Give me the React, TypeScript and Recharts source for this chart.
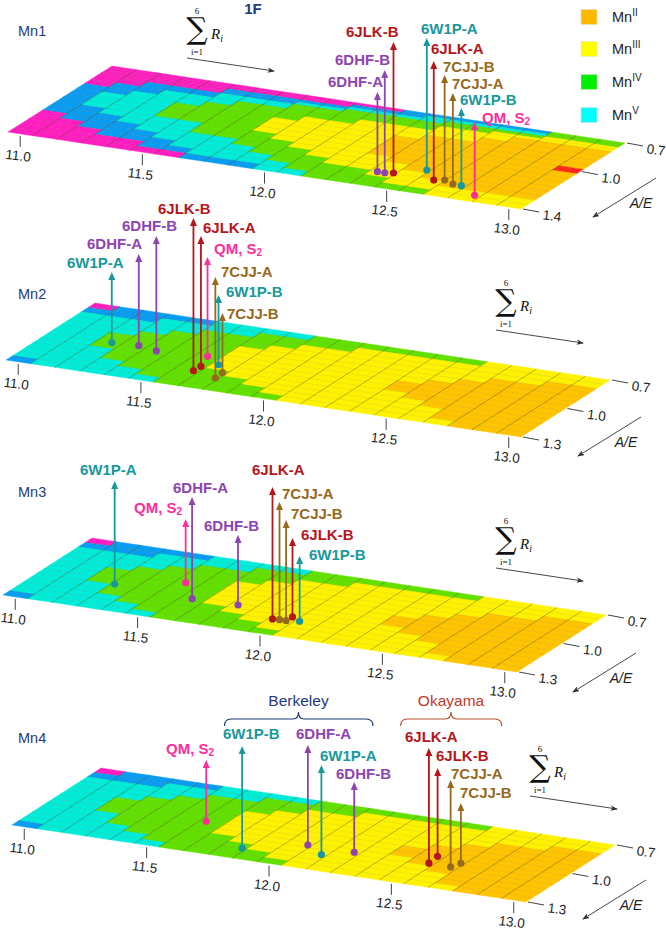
import React from "react"
import { ReferenceArea, ReferenceLine, Scatter, ScatterChart, XAxis, YAxis } from "recharts"

// state of every cell, one string per energy column, back row first
// P/B are the out of range states, C=MnV G=MnIV Y=MnIII O=MnII R=over range
const mn1Columns = [
  "PPPPPPBBBBBBPPPPP",
  "PPPPPBBCCCBBBPPPP",
  "PPPPBBCCCCCBBBPPP",
  "PPPPBCCCCCCCBBBPP",
  "PPPPBCCGGGCCCBBPP",
  "PPBBCCGGGGCCCCBBP",
  "PPBBCGGGGGGGCCCBP",
  "PPBBCGGGGGGGCCCCB",
  "PPBCGGGYYYGGGCCCB",
  "PPBCGGYYYYYGGGCCB",
  "PBCGGGYYYYYYGGGCC",
  "PBCGGYYYYYYYYGGGC",
  "BBCGGYYYYYYYYYGGG",
  "BCCGGYYOOOOYYYGGG",
  "BCGGYYOOOOOOYYYGG",
  "BCGGYYOOOOOOOYYYG",
  "BCGYYOOOOOOOOOYYG",
  "BCGYOOOOOOOOOOOYY",
  "GGYYOOOOOOOOOOOYY",
  "GGYYOOOOOOOOOOOYY",
  "GGYYOOOOROOOOOOYY",
]

const mn234Columns = [
  "PBCCCCCCCCCCB",
  "BBCCCCCCCCCCC",
  "BBCCCGGGCCCCC",
  "BCCCGGGGGGCCC",
  "BCCGGGGGGGGCC",
  "CCGGGGGGGGGGC",
  "CCGGGGGGGGGGG",
  "CGGGYYYYYGGGG",
  "CGGYYYYYYYGGG",
  "GGYYYYYYYYYGG",
  "GGYYYYYYYYYYG",
  "GYYYYYYYYYYYY",
  "GYYYYYYYYYYYY",
  "GYYYYYYYYYYYY",
  "GYYYYYOOYYYYY",
  "GYYYYOOOOYYYY",
  "YYYYOOOOOOYYY",
  "YYYOOOOOOOOOY",
  "YYYOOOOOOOOOO",
  "YYOOOOOOOOOOO",
  "YYOOOOOOOOOOO",
]

const energyEdges = [10.95, 11.05, 11.15, 11.25, 11.35, 11.45, 11.55, 11.65, 11.75, 11.85, 11.95, 12.05, 12.15, 12.25, 12.35, 12.45, 12.55, 12.65, 12.75, 12.85, 12.95, 13.05]
const mn1RatioEdges = [0.675, 0.7, 0.725, 0.75, 0.775, 0.825, 0.875, 0.925, 0.975, 1.025, 1.075, 1.125, 1.175, 1.225, 1.275, 1.325, 1.375, 1.425]
const mn234RatioEdges = [0.675, 0.725, 0.775, 0.825, 0.875, 0.925, 0.975, 1.025, 1.075, 1.125, 1.175, 1.225, 1.275, 1.325]

const energyTicks = [11, 11.5, 12, 12.5, 13]
const mn1RatioTicks = [0.675, 1, 1.425]
const mn234RatioTicks = [0.675, 1, 1.325]

const mn1Names = ["6DHF-A", "6DHF-B", "6JLK-B", "6W1P-A", "6JLK-A", "7CJJ-B", "7CJJ-A", "6W1P-B", "QM, S"]
const mn1Energy = [12.38, 12.41, 12.44, 12.535, 12.61, 12.646, 12.694, 12.731, 12.825]
const mn1Ratio = [1.28, 1.28, 1.27, 1.197, 1.279, 1.264, 1.289, 1.293, 1.363]

const mn2Names = ["6W1P-A", "6DHF-A", "6DHF-B", "6JLK-B", "6JLK-A", "QM, S", "7CJJ-A", "6W1P-B", "7CJJ-B"]
const mn2Energy = [11.21, 11.315, 11.4, 11.625, 11.627, 11.597, 11.735, 11.677, 11.731]
const mn2Ratio = [1.018, 1.009, 1.033, 1.165, 1.114, 1.012, 1.202, 1.075, 1.143]

const mn3Names = ["6W1P-A", "QM, S", "6DHF-A", "6DHF-B", "6JLK-A", "7CJJ-A", "7CJJ-B", "6JLK-B", "6W1P-B"]
const mn3Energy = [11.263, 11.491, 11.595, 11.78, 11.966, 11.993, 12.02, 12.022, 12.068]
const mn3Ratio = [1.069, 0.958, 1.097, 1.092, 1.173, 1.17, 1.17, 1.127, 1.157]

const mn4Names = ["QM, S", "6W1P-B", "6DHF-A", "6W1P-A", "6DHF-B", "6JLK-A", "6JLK-B", "7CJJ-A", "7CJJ-B"]
const mn4Energy = [11.574, 11.832, 12.033, 12.128, 12.224, 12.528, 12.521, 12.619, 12.634]
const mn4Ratio = [1.022, 1.221, 1.1, 1.171, 1.103, 1.101, 1.025, 1.105, 1.057]

const legendNames = ["II", "III", "IV", "V"]

// layout, in page pixels: arrow tip y, label left x, label middle y
const mn1Layout = [[92, 328, 81], [70, 335, 59], [42, 346, 31], [38, 421, 28], [61, 431, 48], [75, 443, 66], [93, 452, 83], [108, 460, 99], [122, 482, 117]]
const mn2Layout = [[272, 67, 262], [254, 87, 243], [236, 122, 225], [218, 158, 208], [236, 203, 227], [257, 214, 248], [277, 221, 271], [295, 226, 291], [313, 227, 313]]
const mn3Layout = [[481, 80, 469], [519, 134, 507], [497, 173, 487], [535, 204, 525], [487, 252, 469], [502, 282, 493], [520, 291, 513], [538, 301, 534], [556, 309, 554]]
const mn4Layout = [[760, 166, 748], [746, 223, 733], [745, 296, 733], [765, 320, 755], [782, 336, 773], [748, 405, 736], [768, 436, 755], [780, 451, 773], [803, 460, 792]]

const panels = [
  { title: "Mn1", titleY: 31, columns: mn1Columns, edges: mn1RatioEdges, ratioTicks: mn1RatioTicks, names: mn1Names, energy: mn1Energy, ratio: mn1Ratio, layout: mn1Layout, bx: 112, by: 66, width: 513, depth: 66, shear: 104 / 66, sum: [187, 58], ae: [656, 178] },
  { title: "Mn2", titleY: 294, columns: mn234Columns, edges: mn234RatioEdges, ratioTicks: mn234RatioTicks, names: mn2Names, energy: mn2Energy, ratio: mn2Ratio, layout: mn2Layout, bx: 95, by: 303, width: 515, depth: 57, shear: 89 / 57, sum: [496, 330], ae: [641, 417] },
  { title: "Mn3", titleY: 492, columns: mn234Columns, edges: mn234RatioEdges, ratioTicks: mn234RatioTicks, names: mn3Names, energy: mn3Energy, ratio: mn3Ratio, layout: mn3Layout, bx: 92, by: 538, width: 514, depth: 57, shear: 89 / 57, sum: [496, 568], ae: [636, 653] },
  { title: "Mn4", titleY: 738, columns: mn234Columns, edges: mn234RatioEdges, ratioTicks: mn234RatioTicks, names: mn4Names, energy: mn4Energy, ratio: mn4Ratio, layout: mn4Layout, bx: 101, by: 768, width: 514, depth: 57, shear: 89 / 57, sum: [530, 796], ae: [646, 880] },
]

const cellColors: Record<string, string> = { P: "#ff1fc0", B: "#0a9cf0", C: "#00ecd8", G: "#62e000", Y: "#fff200", O: "#ffc400", R: "#ff2a1a" }
const legendColors = ["#ffb900", "#ffff00", "#00ee00", "#00ffff"]
const pinColors: Record<string, string> = { "6W1P": "#17989c", "6DHF": "#8e44b0", "6JLK": "#b5161c", "7CJJ": "#96691e", "QM, S": "#ff2d9b" }
const navy = "#1f3a7a"
const sans = "'Liberation Sans', Arial, sans-serif"
const serif = "'Liberation Serif', serif"
const textInk = "#222"

function colorOf(name: string) {
  return pinColors[name.startsWith("QM") ? "QM, S" : name.slice(0, 4)]
}

function Panel({ panel }: { panel: typeof panels[number] }) {
  const { bx, by, width, depth, shear } = panel
  const slope = 77 / width
  // the flat plot area is sheared into the tilted plane of the figure
  const project = (px: number, py: number) => [px - (py - by) * shear, py + (px - bx) * slope]
  const pts = (list: number[][]) => list.map(([a, b]) => project(a, b).join(",")).join(" ")
  const pins = panel.names.map((name, i) => ({ name, energy: panel.energy[i], ratio: panel.ratio[i], layout: panel.layout[i] }))

  return (
    <div style={{ position: "absolute", left: 0, top: 0 }}>
      <ScatterChart width={666} height={930} margin={{ left: bx, top: by, right: 666 - bx - width - 1, bottom: 930 - by - depth - 1 }}>
        <XAxis
          xAxisId={0}
          type="number"
          dataKey="energy"
          domain={[10.95, 13.05]}
          ticks={energyTicks}
          interval={0}
          height={1}
          axisLine={false}
          tickLine={false}
          tick={(p: any) => {
            const [x, y] = project(p.x, by + depth)
            return (
              <g>
                <line x1={x} y1={y + 2} x2={x} y2={y + 13} stroke="#444" strokeWidth={1} />
                <text x={x - 2} y={y + 22} textAnchor="middle" dominantBaseline="central" fontSize={13.5} fontFamily={sans} fill={textInk} transform={`rotate(7 ${x - 2} ${y + 22})`}>
                  {p.payload.value.toFixed(1)}
                </text>
              </g>
            )
          }}
        />
        <YAxis
          yAxisId={0}
          type="number"
          dataKey="ratio"
          orientation="right"
          reversed
          domain={[panel.edges[0], panel.edges[panel.edges.length - 1]]}
          ticks={panel.ratioTicks}
          interval={0}
          width={1}
          axisLine={false}
          tickLine={false}
          tick={(p: any) => {
            const [x, y] = project(bx + width, p.y)
            return (
              <g>
                <line x1={x + 2} y1={y} x2={x + 18} y2={y + 3} stroke="#444" strokeWidth={1} />
                <text x={x + 31} y={y + 7} textAnchor="middle" dominantBaseline="central" fontSize={13.5} fontFamily={sans} fill={textInk} transform={`rotate(7 ${x + 31} ${y + 7})`}>
                  {p.payload.value.toFixed(1)}
                </text>
              </g>
            )
          }}
        />

        {panel.columns.map((column, c) =>
          column.split("").map((state, r) => (
            <ReferenceArea
              key={`${c}-${r}`}
              x1={energyEdges[c]}
              x2={energyEdges[c + 1]}
              y1={panel.edges[r]}
              y2={panel.edges[r + 1]}
              ifOverflow="visible"
              shape={(p: any) => (
                <polygon
                  points={pts([[p.x, p.y], [p.x + p.width, p.y], [p.x + p.width, p.y + p.height], [p.x, p.y + p.height]])}
                  fill={cellColors[state]}
                  stroke={cellColors[state]}
                  strokeWidth={0.4}
                />
              )}
            />
          ))
        )}

        {panel.edges.slice(1, -1).map((edge) => (
          <ReferenceLine
            key={`r${edge}`}
            y={edge}
            ifOverflow="visible"
            shape={(p: any) => {
              const [a, b] = [project(p.x1, p.y1), project(p.x2, p.y2)]
              return <line x1={a[0]} y1={a[1]} x2={b[0]} y2={b[1]} stroke="rgba(70,70,0,0.18)" strokeWidth={0.5} />
            }}
          />
        ))}
        {energyEdges.slice(1, -1).map((edge) => (
          <ReferenceLine
            key={`e${edge}`}
            x={edge}
            ifOverflow="visible"
            shape={(p: any) => {
              const [a, b] = [project(p.x1, p.y1), project(p.x2, p.y2)]
              return <line x1={a[0]} y1={a[1]} x2={b[0]} y2={b[1]} stroke="rgba(50,50,0,0.55)" strokeWidth={0.6} />
            }}
          />
        ))}

        <Scatter
          data={pins}
          isAnimationActive={false}
          shape={(p: any) => {
            const { name, layout } = p.payload
            const color = colorOf(name)
            const [x, y] = project(p.cx, p.cy)
            const tip = layout[0]
            return (
              <g>
                <line x1={x} y1={y} x2={x} y2={tip + 5} stroke={color} strokeWidth={1.8} />
                <polygon points={`${x},${tip} ${x - 3.5},${tip + 8} ${x + 3.5},${tip + 8}`} fill={color} />
                <circle cx={x} cy={y} r={3.6} fill={color} />
                <text x={layout[1]} y={layout[2]} dominantBaseline="central" fontSize={15} fontWeight="bold" fontFamily={sans} fill={color}>
                  {name}
                  {name.startsWith("QM") && <tspan fontSize={10} dy={4}>2</tspan>}
                </text>
              </g>
            )
          }}
        />
      </ScatterChart>
    </div>
  )
}

function Annotations() {
  return (
    <svg width={666} height={930} style={{ position: "absolute", left: 0, top: 0 }}>
      <defs>
        <marker id="head" markerWidth="8" markerHeight="6" refX="7" refY="3" orient="auto">
          <path d="M0,0 L8,3 L0,6 L2,3 Z" fill="#333" />
        </marker>
      </defs>
      <text x={253} y={8} textAnchor="middle" dominantBaseline="central" fontSize={15} fontWeight="bold" fontFamily={sans} fill={navy}>1F</text>

      {legendNames.map((name, i) => {
        const y = [17, 49, 82, 115][i]
        return (
          <g key={name}>
            <rect x={581} y={y - 7.5} width={16} height={15} fill={legendColors[i]} stroke="#ddd" strokeWidth={0.5} />
            <text x={612} y={y + 5} fontSize={14.5} fontFamily={sans} fill={textInk}>
              Mn<tspan fontSize={10} dy={-6}>{name}</tspan>
            </text>
          </g>
        )
      })}

      {panels.map((panel) => {
        const [sx, sy] = panel.sum
        const [ax, ay] = panel.ae
        return (
          <g key={panel.title}>
            <text x={18} y={panel.titleY} dominantBaseline="central" fontSize={14.5} fontFamily={sans} fill={navy}>{panel.title}</text>
            <line x1={sx} y1={sy} x2={sx + 87} y2={sy + 13} stroke="#333" strokeWidth={0.9} markerEnd="url(#head)" />
            <text x={sx + 10} y={sy - 19.5} textAnchor="middle" fontSize={30} fontFamily="'DejaVu Serif', serif" fill="#111">∑</text>
            <text x={sx + 10} y={sy - 47} textAnchor="middle" dominantBaseline="central" fontSize={9} fontFamily={serif} fill="#111">6</text>
            <text x={sx + 10} y={sy - 6} textAnchor="middle" dominantBaseline="central" fontSize={9} fontFamily={serif} fill="#111">i=1</text>
            <text x={sx + 24} y={sy - 19} fontSize={15} fontStyle="italic" fontFamily={serif} fill="#111">
              R<tspan fontSize={10} dy={3}>i</tspan>
            </text>
            <line x1={ax} y1={ay} x2={ax - 63} y2={ay + 39} stroke="#333" strokeWidth={0.9} markerEnd="url(#head)" />
            <text x={ax - 15} y={ay + 25} textAnchor="middle" dominantBaseline="central" fontSize={14} fontStyle="italic" fontFamily={sans} fill={textInk}>A/E</text>
          </g>
        )
      })}

      <path d="M224.5 726 Q224.5 719 231 719 L293 719 Q298.5 719 298.5 712 Q298.5 719 304 719 L366 719 Q373 719 373 726" fill="none" stroke={navy} strokeWidth={1.2} />
      <text x={298.5} y={700} textAnchor="middle" dominantBaseline="central" fontSize={15.5} fontFamily={sans} fill={navy}>Berkeley</text>
      <path d="M400.7 726 Q400.7 719 407 719 L445 719 Q451 719 451 712 Q451 719 457 719 L495 719 Q501.7 719 501.7 726" fill="none" stroke="#b5522a" strokeWidth={1.2} />
      <text x={451} y={700} textAnchor="middle" dominantBaseline="central" fontSize={15.5} fontFamily={sans} fill="#c0392b">Okayama</text>
    </svg>
  )
}

export default function App() {
  return (
    <div style={{ position: "absolute", left: 0, top: 0, width: 666, height: 930, background: "#fff" }}>
      {panels.map((panel) => (
        <Panel key={panel.title} panel={panel} />
      ))}
      <Annotations />
    </div>
  )
}
